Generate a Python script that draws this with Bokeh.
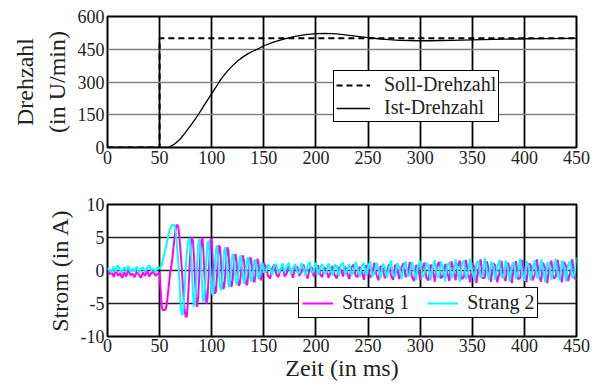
import numpy as np
from bokeh.plotting import figure
from bokeh.layouts import column
from bokeh.models import Legend, LegendItem, FixedTicker, Range1d
from bokeh.embed import file_html
from bokeh.resources import INLINE

# ---------------- data ----------------
x_ticks = [0, 50, 100, 150, 200, 250, 300, 350, 400, 450]
y_ticks_speed = [0, 150, 300, 450, 600]
y_ticks_current = [-10, -5, 0, 5, 10]
y_labels_current = {-10: "-10", -5: "-5", 0: "0", 5: "5", 10: "10"}

# Soll-Drehzahl (setpoint step)
t_soll = [0, 50, 50, 450]
n_soll = [0, 0, 500, 500]

# Ist-Drehzahl (measured speed)
t_ist = [0, 50, 57, 60, 65, 70, 75, 80, 85, 87, 90, 95, 100, 105, 107, 110, 115, 120, 125,
         130, 135, 140, 145, 150, 160, 170, 180, 190, 200, 210, 220, 230, 240, 250, 260,
         270, 280, 290, 300, 310, 320, 330, 340, 350, 360, 370, 380, 390, 400, 420, 450]
n_ist = [0, 0, 0, 3, 18, 40, 70, 103, 136, 150, 172, 210, 247, 283, 300, 320, 350, 375, 397,
         415, 430, 442, 453, 466, 484, 498, 509, 517, 522, 523, 520, 515, 509, 503, 498,
         494, 491, 490, 489, 489, 490, 491, 492, 493, 494, 495, 496, 497, 498, 499, 500]

# Strom, sampled: 0..48 every 2 ms, 50..150 every 1 ms, 152..450 every 2 ms
t_cur = list(range(0, 50, 2)) + list(range(50, 151)) + list(range(152, 451, 2))

strang1 = [
    # 0..48
    0.3, -0.6, -0.2, -1.0, 0.2, -0.8, -0.4, -1.1, -0.3, -0.9, 0.1, -0.7, -0.5, -1.0, -0.2,
    -0.6, -1.1, -0.3, -0.8, 0.0, -0.9, -0.4, -0.2, -0.8, -0.5,
    # 50..150
    -0.3, -3.0, -5.5, -6.0, -6.0, -6.0, -5.8, -5.0, -3.5, -2.0,
    -0.5, 0.5, 1.5, 3.0, 4.5, 5.8, 6.8, 6.9, 6.5, 5.0,
    3.0, 1.0, -1.5, -4.0, -6.0, -7.0, -7.0, -5.0, -2.0, 1.5,
    4.0, 5.0, 4.5, 2.0, -1.5, -4.5, -5.5, -4.0, -1.0, 2.5,
    4.5, 5.0, 3.0, -0.5, -3.5, -5.0, -4.0, -1.0, 2.5, 4.8,
    4.5, 1.5, -2.0, -3.5, -3.2, -1.0, 2.0, 3.8, 3.5, 1.0,
    -1.5, -2.8, -2.5, -0.5, 2.0, 3.5, 3.0, 0.5, -1.8, -2.5,
    -1.5, 0.5, 2.2, 2.5, 1.0, -1.0, -2.3, -2.0, -0.5, 1.5,
    2.3, 1.5, -0.5, -2.0, -2.2, -0.8, 1.0, 2.0, 1.5, -0.2,
    -1.5, -1.8, -0.5, 1.0, 1.8, 1.0, -0.5, -1.5, -1.2, 0.2,
    1.2,
    # 152..450
    0.5, -0.8, -1.2, 0.3, 0.9, -0.6, -1.0, 0.2, 0.7, -0.9,
    -0.4, 0.8, -0.2, -1.1, 0.4, 0.6, -0.8, -0.3, 0.9, -0.5,
    -1.2, 0.3, 0.5, -0.9, -0.2, 0.8, -0.6, -1.0, 0.4, 0.2,
    -1.1, -0.3, 0.7, -0.7, -1.2, 0.5, 0.1, -0.9, 0.6, -0.4,
    -1.3, 0.4, 0.9, -0.8, -1.0, 0.6, -0.2, -1.4, 0.8, 0.3,
    -1.1, -0.5, 1.2, -0.6, -1.5, 0.7, 0.4, -1.2, -0.3, 1.0,
    -0.8, -1.4, 0.9, 0.2, -1.3, 0.5, 1.1, -1.0, -0.6, 1.3,
    -0.9, -1.6, 0.8, 0.5, -1.4, 0.1, 1.2, -1.1, -1.5, 0.9,
    0.3, -1.7, 0.6, 1.3, -1.2, -0.8, 1.0, -0.3, -1.6, 1.4,
    0.2, -1.5, 0.7, 1.5, -1.3, -1.0, 1.6, -0.4, -1.8, 1.2,
    0.5, -1.9, 0.3, 1.7, -1.2, -1.1, 1.4, 0.0, -1.7, 1.1,
    0.8, -1.8, -0.5, 1.5, -0.9, -1.6, 1.2, 0.4, -1.9, 0.7,
    1.4, -1.3, -1.2, 1.6, -0.2, -1.8, 1.0, 0.9, -1.5, -0.6,
    1.7, -0.8, -1.7, 1.2, 0.3, -1.9, 0.6, 1.5, -1.2, -1.0,
    1.6, -0.4, -1.8, 1.3, 0.7, -1.6, -0.3, 1.7, -1.1, -1.4,
]

strang2 = [
    # 0..48
    0.4, 0.0, -0.3, 0.6, -0.2, 0.8, 0.1, -0.4, 0.5, 0.0, 0.7, -0.3, 0.3, -0.1, 0.6,
    -0.4, 0.2, 0.5, -0.2, 0.4, 0.8, 0.0, 0.3, -0.3, 0.5,
    # 50..150
    0.3, 0.5, 0.8, 1.5, 2.2, 2.8, 3.5, 4.3, 5.0, 5.7,
    6.3, 6.7, 6.9, 6.9, 6.9, 6.5, 5.0, 3.0, 1.0, -1.5,
    -4.5, -6.5, -6.8, -5.5, -3.0, 0.0, 2.5, 4.0, 4.8, 4.8,
    3.0, 0.0, -3.5, -5.5, -5.0, -2.5, 1.0, 3.8, 4.8, 3.5,
    0.5, -3.0, -4.8, -4.2, -1.5, 2.0, 4.2, 4.5, 2.5, -0.5,
    -3.2, -3.8, -2.5, 0.5, 3.0, 3.8, 2.5, -0.2, -2.5, -3.0,
    -1.8, 0.8, 3.0, 3.5, 2.0, -0.5, -2.2, -2.5, -1.0, 1.2,
    2.5, 2.2, 0.5, -1.5, -2.2, -1.5, 0.5, 2.0, 2.3, 1.0,
    -1.0, -2.0, -1.5, 0.2, 1.7, 2.0, 0.8, -0.8, -1.7, -1.3,
    0.2, 1.5, 1.6, 0.5, -0.8, -1.3, -0.8, 0.5, 1.2, 0.8,
    -0.3,
    # 152..450
    -0.2, 0.9, 0.4, -0.7, 0.8, 1.0, -0.4, 0.2, 1.1, -0.3,
    0.5, 1.2, -0.6, 0.3, 1.0, -0.2, -0.5, 1.1, 0.4, -0.8,
    0.6, 1.3, -0.4, 0.0, 1.2, -0.7, 0.4, 1.0, -0.5, -0.3,
    1.1, 0.2, -0.8, 0.9, 0.6, -0.9, 0.8, 1.2, -0.6, 0.1,
    1.0, -0.7, -0.2, 1.3, 0.3, -1.0, 0.7, 1.1, -0.8, 0.5,
    1.4, -0.9, -0.4, 1.2, 0.1, -1.2, 1.0, 0.6, -1.1, 0.3,
    1.5, -0.7, -1.0, 1.1, 0.5, -1.3, 0.4, 1.4, -0.9, -0.6,
    1.3, 0.2, -1.4, 0.8, 1.5, -1.0, -0.7, 1.2, 0.6, -1.5,
    0.5, 1.6, -0.8, -1.1, 1.4, 0.3, -1.6, 0.9, 1.2, -1.2,
    -0.5, 1.7, 0.1, -1.7, 1.0, 1.5, -1.3, -0.4, 1.8, -0.2,
    -1.6, 1.2, 1.4, -1.1, -0.8, 1.9, 0.0, -1.5, 1.3, 0.9,
    -1.4, 0.5, 1.6, -0.9, -1.2, 1.5, 0.4, -1.7, 0.8, 1.3,
    -1.3, -0.3, 1.8, -0.6, -1.6, 1.4, 0.7, -1.5, 0.2, 1.6,
    -1.0, -1.1, 1.7, 0.1, -1.8, 1.2, 1.0, -1.4, -0.2, 1.8,
    -0.7, -1.5, 1.5, 0.6, -1.7, 0.9, 1.4, -1.2, -0.5, 2.0,
]

# ---------------- style ----------------
FONT = "Liberation Serif"
TXT = "#222222"
TICK_FS = "18px"
LABEL_FS = "24px"
LEG_FS = "20px"


def style(p, xgrid_color, ygrid_color, xgrid_w, ygrid_w):
    p.outline_line_color = "black"
    p.outline_line_width = 2
    p.outline_line_alpha = 1
    for ax in p.axis:
        ax.axis_line_color = None
        ax.major_tick_out = 0
        ax.major_tick_in = 0
        ax.minor_tick_line_color = None
        ax.major_label_text_font = FONT
        ax.major_label_text_font_size = TICK_FS
        ax.major_label_text_color = TXT
        ax.axis_label_text_font = FONT
        ax.axis_label_text_font_size = LABEL_FS
        ax.axis_label_text_font_style = "normal"
        ax.axis_label_text_color = TXT
        ax.major_label_standoff = 3
    p.xgrid.grid_line_color = xgrid_color
    p.xgrid.grid_line_width = xgrid_w
    p.xgrid.grid_line_alpha = 1
    p.ygrid.grid_line_color = ygrid_color
    p.ygrid.grid_line_width = ygrid_w
    p.ygrid.grid_line_alpha = 1


# ---------------- top: speed ----------------
p1 = figure(width=607, height=188, output_backend="svg", toolbar_location=None,
            x_range=Range1d(0, 450), y_range=Range1d(0, 600),
            min_border_left=107, min_border_right=31, min_border_top=16, min_border_bottom=41)
p1.xaxis.ticker = FixedTicker(ticks=x_ticks)
p1.yaxis.ticker = FixedTicker(ticks=y_ticks_speed)
p1.yaxis.axis_label = "Drehzahl\n(in U/min)"
p1.yaxis.axis_label_standoff = 5
style(p1, "black", "#808080", 1.8, 1.4)

r_soll = p1.line(t_soll, n_soll, line_color="black", line_width=2, line_dash="6 4")
r_ist = p1.line(t_ist, n_ist, line_color="black", line_width=1.3)

leg1 = Legend(items=[LegendItem(label="Soll-Drehzahl", renderers=[r_soll]),
                     LegendItem(label="Ist-Drehzahl", renderers=[r_ist])],
              location=(226, 25), orientation="vertical",
              label_text_font=FONT, label_text_font_size=LEG_FS, label_text_color=TXT,
              border_line_color="black", border_line_width=1.5, border_line_alpha=1,
              background_fill_alpha=1, padding=2, spacing=-4, margin=0,
              glyph_width=34, glyph_height=18, label_height=18, label_standoff=14)
p1.add_layout(leg1)

# ---------------- bottom: current ----------------
p2 = figure(width=607, height=198, output_backend="svg", toolbar_location=None,
            x_range=Range1d(0, 450), y_range=Range1d(-10, 10),
            min_border_left=107, min_border_right=31, min_border_top=16, min_border_bottom=50)
p2.xaxis.ticker = FixedTicker(ticks=x_ticks)
p2.yaxis.ticker = FixedTicker(ticks=y_ticks_current)
p2.yaxis.major_label_overrides = y_labels_current
p2.yaxis.axis_label = "Strom (in A)"
p2.yaxis.axis_label_standoff = 5
p2.xaxis.axis_label = "Zeit (in ms)"
style(p2, "black", "#222222", 1.8, 1.3)
p2.xaxis.major_label_standoff = 2
p2.xaxis.axis_label_standoff = 0

r_s1 = p2.line(t_cur, strang1, line_color="#ff00ff", line_width=2)
r_s2 = p2.line(t_cur, strang2, line_color="#00ffff", line_width=2)

leg2 = Legend(items=[LegendItem(label="Strang 1", renderers=[r_s1]),
                     LegendItem(label="Strang 2", renderers=[r_s2])],
              location=(191, 18), orientation="horizontal",
              label_text_font=FONT, label_text_font_size=LEG_FS, label_text_color=TXT,
              border_line_color="black", border_line_width=1.5, border_line_alpha=1,
              background_fill_alpha=1, padding=3, spacing=18, margin=0,
              glyph_width=31, glyph_height=20, label_height=20, label_standoff=9)
p2.add_layout(leg2)

layout = column(p1, p2, spacing=0)
open("out.html", "w").write(file_html(layout, INLINE))
